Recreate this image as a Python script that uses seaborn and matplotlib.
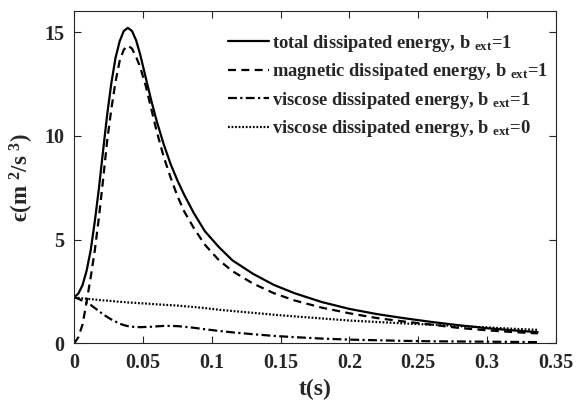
import numpy as np
import pandas as pd
import matplotlib
matplotlib.use("Agg")
import matplotlib.pyplot as plt
import seaborn as sns

t = [0, 0.003, 0.006, 0.009, 0.012, 0.015, 0.018, 0.021, 0.024, 0.027,
     0.030, 0.033, 0.036, 0.039, 0.042, 0.045, 0.048, 0.052, 0.056, 0.060,
     0.065, 0.070, 0.075, 0.080, 0.087, 0.095, 0.105, 0.115, 0.13, 0.145,
     0.16, 0.18, 0.20, 0.22, 0.24, 0.26, 0.28, 0.30, 0.32, 0.337]

total_b1 = [2.22, 2.4, 2.8, 3.5, 4.5, 5.9, 7.5, 9.3, 11.05, 12.55,
            13.75, 14.55, 15.05, 15.2, 15.05, 14.6, 13.9, 12.8, 11.7, 10.7,
            9.6, 8.65, 7.85, 7.15, 6.27, 5.4, 4.65, 4.0, 3.35, 2.82,
            2.42, 1.99, 1.66, 1.41, 1.21, 1.03, 0.87, 0.73, 0.62, 0.54]

magnetic_b1 = [0.0, 0.3, 0.9, 2.0, 3.2, 4.5, 6.1, 7.9, 9.8, 11.3,
               12.6, 13.6, 14.15, 14.35, 14.2, 13.8, 13.3, 12.4, 11.3, 10.2,
               9.0, 8.0, 7.1, 6.35, 5.55, 4.75, 4.02, 3.48, 2.88, 2.42,
               2.07, 1.72, 1.45, 1.22, 1.05, 0.9, 0.74, 0.63, 0.54, 0.48]

viscous_b1 = [2.22, 2.15, 2.05, 1.95, 1.85, 1.7, 1.55, 1.4, 1.27, 1.15,
              1.05, 0.95, 0.88, 0.83, 0.8, 0.79, 0.78, 0.79, 0.8, 0.82,
              0.84, 0.84, 0.83, 0.8, 0.75, 0.68, 0.6, 0.53, 0.44, 0.36,
              0.3, 0.23, 0.18, 0.15, 0.12, 0.1, 0.09, 0.08, 0.07, 0.06]

viscous_b0 = [2.2, 2.19, 2.17, 2.15, 2.13, 2.11, 2.09, 2.07, 2.06, 2.04,
              2.02, 2.0, 1.99, 1.97, 1.96, 1.95, 1.93, 1.92, 1.9, 1.88,
              1.86, 1.84, 1.82, 1.79, 1.75, 1.7, 1.62, 1.56, 1.47, 1.38,
              1.3, 1.2, 1.1, 1.03, 0.96, 0.9, 0.83, 0.77, 0.7, 0.65]

labels = [r"total dissipated energy, b $_{\mathbf{ext}}$=1",
          r"magnetic dissipated energy, b $_{\mathbf{ext}}$=1",
          r"viscose dissipated energy, b $_{\mathbf{ext}}$=1",
          r"viscose dissipated energy, b $_{\mathbf{ext}}$=0"]

xticks = [0, 0.05, 0.1, 0.15, 0.2, 0.25, 0.3, 0.35]
xticklabels = ["0", "0.05", "0.1", "0.15", "0.2", "0.25", "0.3", "0.35"]
yticks = [0, 5, 10, 15]
yticklabels = ["0", "5", "10", "15"]

sns.set_style("ticks")
plt.rcParams['font.family'] = ['Liberation Serif', 'DejaVu Serif']
plt.rcParams['font.weight'] = 'bold'
plt.rcParams['mathtext.fontset'] = 'custom'
plt.rcParams['mathtext.rm'] = 'Liberation Serif:bold'
plt.rcParams['mathtext.bf'] = 'Liberation Serif:bold'
plt.rcParams['mathtext.it'] = 'Liberation Serif:bold:italic'

fig = plt.figure(figsize=(5.8, 4.03), dpi=100)
ax = fig.add_axes([0.128, 0.148, 0.830, 0.824])

df = pd.DataFrame({"t": t, "total": total_b1, "mag": magnetic_b1,
                   "v1": viscous_b1, "v0": viscous_b0})

styles = [
    ("total", dict(linestyle="-")),
    ("mag", dict(linestyle=(0, (3.6, 2.4)))),
    ("v1", dict(linestyle=(0, (4, 1.5, 1, 1.5)))),
    ("v0", dict(linestyle=(0, (0.8, 0.8)))),
]
for (col, st), lab in zip(styles, labels):
    sns.lineplot(data=df, x="t", y=col, ax=ax, color="black", linewidth=1.6,
                 label=lab, estimator=None, sort=False, **st)

ax.set_xlim(0, 0.35)
ax.set_ylim(0, 16)
ax.set_xticks(xticks)
ax.set_xticklabels(xticklabels)
ax.set_yticks(yticks)
ax.set_yticklabels(yticklabels)
ax.tick_params(direction="in", length=5, width=0.8, top=True, right=True,
               labelsize=14.5, pad=7)
for lab in ax.get_xticklabels() + ax.get_yticklabels():
    lab.set_fontweight("bold")
for sp in ax.spines.values():
    sp.set_visible(True)
    sp.set_linewidth(0.8)

ax.set_xlabel("t(s)", fontsize=17, fontweight="bold", labelpad=4)
ax.set_ylabel(r"ϵ(m $^{\mathbf{2}}$/s $^{\mathbf{3}}$)", fontsize=16.5,
              fontweight="bold", labelpad=6)

leg = ax.legend(loc="upper left", bbox_to_anchor=(0.285, 0.985), frameon=False,
                handlelength=2.2, handletextpad=0.2, labelspacing=0.4,
                prop={"size": 13.3, "weight": "bold"})

fig.savefig("out.png", dpi=100)
